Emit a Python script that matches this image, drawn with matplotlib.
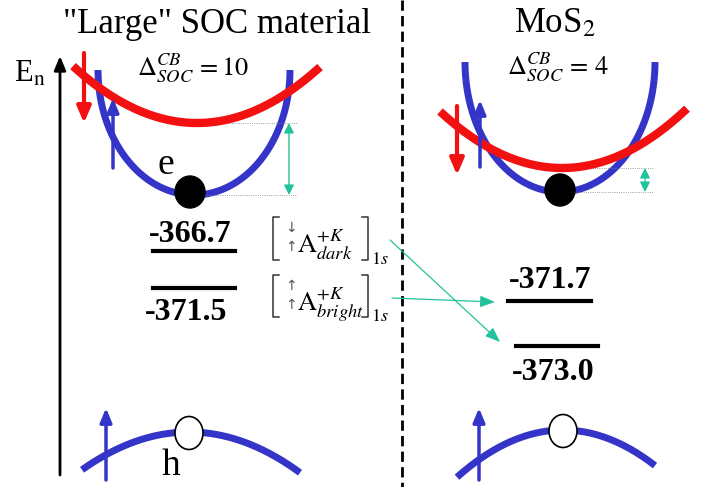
import numpy as np
import matplotlib.pyplot as plt
from matplotlib.patches import Ellipse

plt.rcParams['font.family'] = ['Liberation Serif', 'DejaVu Sans']
plt.rcParams['mathtext.fontset'] = 'stix'

# values shown in the diagram
panel_titles = ['"Large" SOC material', r'MoS$_2$']
delta_soc = [10, 4]
left_levels = ['-366.7', '-371.5']
right_levels = ['-371.7', '-373.0']
exciton_states = ['dark', 'bright']

BLUE = '#3434c8'
RED = '#f21010'
TEAL = '#22c29c'

fig = plt.figure(figsize=(7.21, 4.87), dpi=100)
ax = fig.add_axes([0, 0, 1, 1])
ax.set_xlim(0, 721)
ax.set_ylim(487, 0)
ax.axis('off')


def arrow(x0, y0, x1, y1, color, lw=3, hl=0.7, hw=0.3, ms=14, style='-|>'):
    ax.annotate('', xy=(x1, y1), xytext=(x0, y0),
                arrowprops=dict(arrowstyle=f'{style},head_length={hl},head_width={hw}',
                                color=color, lw=lw, mutation_scale=ms,
                                shrinkA=0, shrinkB=0))


def cb_panel(cx, half_w, top, depth, rx, ry, ra, rx0, rx1, dot, gap_x):
    # spin-up conduction band (blue U)
    t = np.linspace(0, np.pi, 200)
    ax.plot(cx + half_w * np.cos(t), top + depth * np.sin(t), color=BLUE, lw=5,
            solid_capstyle='butt')
    # spin-down band (red)
    xs = np.linspace(rx0, rx1, 200)
    ax.plot(xs, ry - ra * (xs - rx) ** 2, color=RED, lw=6, solid_capstyle='butt', zorder=3)
    # electron
    ax.add_patch(Ellipse(dot, 30, 32, color='black', zorder=5))
    # splitting marker
    y_hi = ry
    y_lo = top + depth
    ax.plot([rx - 5, gap_x + 8], [y_hi, y_hi], color='gray', lw=0.6, ls=':')
    ax.plot([dot[0] + 10, gap_x + 8], [y_lo, y_lo], color='gray', lw=0.6, ls=':')
    arrow(gap_x, y_hi, gap_x, y_lo, TEAL, lw=1, hl=0.6, hw=0.3, ms=10, style='<|-|>')


# left panel conduction bands
cb_panel(194, 96, 70, 125, 197, 123, 0.0037, 73, 320, (190, 192), 289)
arrow(84, 53, 84, 123, RED, lw=3)
arrow(113, 168, 113, 98, BLUE, lw=2.5, hl=0.6, hw=0.25)

# right panel conduction bands
cb_panel(560, 95, 62, 130, 562, 168, 0.0038, 440, 687, (560, 190), 645)
arrow(457, 106, 457, 175, RED, lw=3)
arrow(480, 167, 480, 100, BLUE, lw=2.5, hl=0.6, hw=0.25)

# valence bands with holes
for vx, vy, va, x0, x1, up_x in [(189, 432, 0.0033, 82, 300, 106),
                                 (563, 430, 0.0042, 457, 655, 479)]:
    xs = np.linspace(x0, x1, 200)
    ax.plot(xs, vy + va * (xs - vx) ** 2, color=BLUE, lw=5, solid_capstyle='butt')
    ax.add_patch(Ellipse((vx, vy + 1), 28, 33, facecolor='white', edgecolor='black',
                         lw=1.2, zorder=5))
    arrow(up_x, 480, up_x, 408, BLUE, lw=2.5, hl=0.6, hw=0.25)

# energy axis
arrow(60, 475, 60, 56, 'black', lw=2, hl=0.6, hw=0.25, ms=14)
ax.text(14, 82, r'E$_\mathrm{n}$', fontsize=22, va='baseline')

# divider
ax.plot([402, 402], [0, 487], color='black', lw=2, ls=(0, (3.7, 1.9)))

# titles
ax.text(217, 33, panel_titles[0], fontsize=25, ha='center', va='baseline')
ax.text(555, 32, panel_titles[1], fontsize=25, ha='center', va='baseline')
ax.text(193, 76, r'$\Delta_{SOC}^{CB}\,=%d$' % delta_soc[0], fontsize=19, ha='center',
        va='baseline')
ax.text(558, 75, r'$\Delta_{SOC}^{CB}\,=\,%d$' % delta_soc[1], fontsize=19, ha='center',
        va='baseline')

# particle labels
ax.text(166, 174, 'e', fontsize=27, ha='center', va='baseline')
ax.text(171, 475, 'h', fontsize=27, ha='center', va='baseline')

# exciton levels
ax.text(190, 242, left_levels[0], fontsize=23, fontweight='bold', ha='center', va='baseline')
ax.plot([153, 235], [251, 251], color='black', lw=3)
ax.plot([153, 235], [288, 288], color='black', lw=3)
ax.text(186, 320, left_levels[1], fontsize=23, fontweight='bold', ha='center', va='baseline')

ax.text(550, 288, right_levels[0], fontsize=23, fontweight='bold', ha='center', va='baseline')
ax.plot([508, 591], [301, 301], color='black', lw=3)
ax.plot([516, 598], [346, 346], color='black', lw=3)
ax.text(553, 380, right_levels[1], fontsize=23, fontweight='bold', ha='center', va='baseline')

# exciton state labels
for (ytop, ybot), state, spins in zip([(217, 260), (275, 317)], exciton_states,
                                      [('\u2193', '\u2191'), ('\u2191', '\u2191')]):
    for bx, d in [(273, 6), (368, -6)]:
        ax.plot([bx + d, bx, bx, bx + d], [ytop, ytop, ybot, ybot], color='#333333', lw=1.1)
    ax.text(291, ytop + 11, spins[0], fontsize=10, color='#555555', ha='center', va='center',
            family='DejaVu Sans')
    ax.text(291, ytop + 30, spins[1], fontsize=10, color='#555555', ha='center', va='center',
            family='DejaVu Sans')
    ax.text(297, ytop + 36, r'$\mathrm{A}_{%s}^{+K}$' % state, fontsize=19, ha='left',
            va='baseline')
    ax.text(371, ybot + 4, r'$1s$', fontsize=13, ha='left', va='baseline')

# transitions
arrow(390, 240, 500, 342, TEAL, lw=0.9, hl=0.9, hw=0.35, ms=10)
arrow(392, 298, 495, 302, TEAL, lw=0.9, hl=0.9, hw=0.35, ms=10)

fig.savefig('out.png', dpi=100)
